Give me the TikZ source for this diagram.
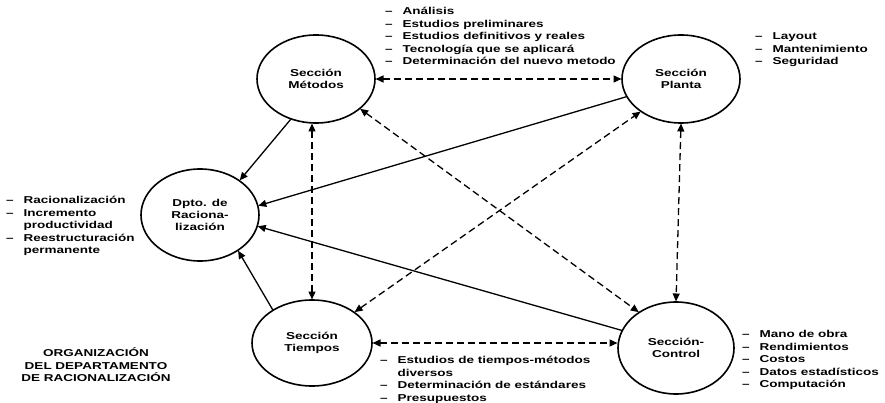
\documentclass[tikz,border=0pt]{standalone}
\usepackage{fontspec}
\setmainfont{Liberation Sans}[FakeStretch=1.35]
\usetikzlibrary{arrows.meta,shapes.geometric}

\begin{document}
\begin{tikzpicture}[x=1pt,y=-1pt,
  font=\bfseries\fontsize{10}{12.4}\selectfont,
  >={Triangle[length=8pt,width=7pt]},
  sec/.style={ellipse, draw, line width=1.6pt, inner sep=0pt, outer sep=0pt,
    minimum width=118pt, minimum height=88pt, align=center},
  link/.style={line width=1.3pt, shorten >=0.5pt, shorten <=0.5pt},
  dlink/.style={link, dash pattern=on 7pt off 4pt},
  itemlist/.style={anchor=north west, inner sep=0pt, align=left}
]
\useasboundingbox (0,0) rectangle (885,403);

% sections of the department
\node[sec] (met) at (316,79)  {Sección\\Métodos};
\node[sec] (pla) at (681,79)  {Sección\\Planta};
\node[sec, minimum height=92pt] (dpt) at (200,215) {Dpto. de\\Raciona-\\lización};
\node[sec, minimum width=120pt, minimum height=86pt] (tie) at (312,343) {Sección\\Tiempos};
\node[sec, minimum width=116pt, minimum height=92pt] (con) at (676,348) {Sección-\\Control};

% task lists
\node[itemlist] (lmet) at (385,6) {\begin{tabular}{@{}l@{\hspace{10pt}}l@{}}
  – & Análisis\\
  – & Estudios preliminares\\
  – & Estudios definitivos y reales\\
  – & Tecnología que se aplicará\\
  – & Determinación del nuevo metodo
\end{tabular}};
\node[itemlist] (lpla) at (755,31) {\begin{tabular}{@{}l@{\hspace{10pt}}l@{}}
  – & Layout\\
  – & Mantenimiento\\
  – & Seguridad
\end{tabular}};
\node[itemlist] (ldpt) at (6,195) {\begin{tabular}{@{}l@{\hspace{10pt}}l@{}}
  – & Racionalización\\
  – & Incremento\\
    & productividad\\
  – & Reestructuración\\
    & permanente
\end{tabular}};
\node[itemlist] (ltie) at (380,355) {\begin{tabular}{@{}l@{\hspace{10pt}}l@{}}
  – & Estudios de tiempos-métodos\\
    & diversos\\
  – & Determinación de estándares\\
  – & Presupuestos
\end{tabular}};
\node[itemlist] (lcon) at (742,329) {\begin{tabular}{@{}l@{\hspace{10pt}}l@{}}
  – & Mano de obra\\
  – & Rendimientos\\
  – & Costos\\
  – & Datos estadísticos\\
  – & Computación
\end{tabular}};

% title
\node[align=center, inner sep=0pt] (title) at (96,365)
  {ORGANIZACIÓN\\DEL DEPARTAMENTO\\DE RACIONALIZACIÓN};

% solid links into the department
\draw[link,->] (met.238) -- (dpt.41);
\draw[link,->] (pla.198) -- (dpt.9);
\draw[link,->] (con.162) -- (dpt.349);
\draw[link,->] (tie.140) -- (dpt.317);

% dashed links between sections
\draw[dlink,<->] (met.east) -- (pla.west);
\draw[dlink,<->] (met.south -| tie.north) -- (tie.north);
\draw[dlink,<->] (met.326) -- (con.136);
\draw[dlink,<->] (tie.36) -- (pla.219);
\draw[dlink,<->] (pla.south) -- (con.north);
\draw[dlink,<->] (tie.east) -- (tie.east -| con.west);
\end{tikzpicture}
\end{document}
